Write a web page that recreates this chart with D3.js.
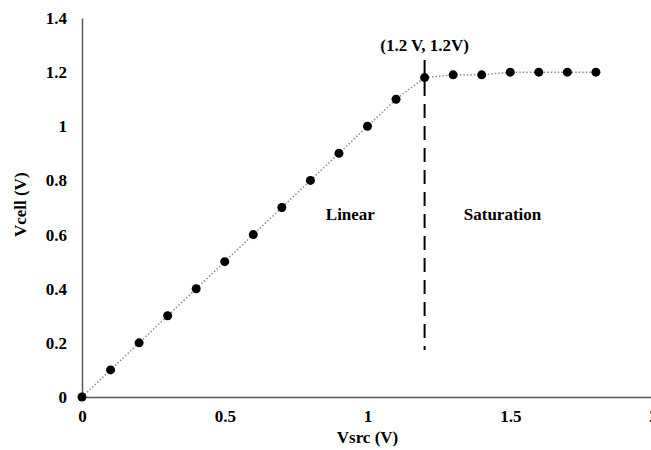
<!DOCTYPE html>
<html>
<head>
<meta charset="utf-8">
<script src="https://cdn.jsdelivr.net/npm/d3@7"></script>
<style>
    body { margin: 0; background: #fff; }
    svg text { font-family: "Liberation Serif", "Times New Roman", serif; font-weight: bold; fill: #000; }
</style>
</head>
<body>
<div id="chart"></div>
<script>
// Vcell vs Vsrc
const vsrc = [0, 0.1, 0.2, 0.3, 0.4, 0.5, 0.6, 0.7, 0.8, 0.9, 1.0, 1.1, 1.2, 1.3, 1.4, 1.5, 1.6, 1.7, 1.8];
const vcell = [0, 0.1, 0.2, 0.3, 0.4, 0.5, 0.6, 0.7, 0.8, 0.9, 1.0, 1.1, 1.18, 1.19, 1.19, 1.2, 1.2, 1.2, 1.2];
const xTicks = [0, 0.5, 1, 1.5, 2];
const yTicks = [0, 0.2, 0.4, 0.6, 0.8, 1, 1.2, 1.4];
const divider = { x: 1.2, y0: 0.174, y1: 1.245 };
const notes = [
    { x: 1.2, y: 1.278, text: '(1.2 V, 1.2V)' },
    { x: 0.94, y: 0.655, text: 'Linear' },
    { x: 1.473, y: 0.655, text: 'Saturation' }
];

const width = 651, height = 450;
const margin = { top: 18, right: -2, bottom: 53, left: 82 };
const fontSize = '17px';

const svg = d3.select('#chart').append('svg')
    .attr('width', width)
    .attr('height', height);

const x = d3.scaleLinear().domain([0, 2]).range([margin.left, width - margin.right]);
const y = d3.scaleLinear().domain([0, 1.4]).range([height - margin.bottom, margin.top]);

// axes
const xAxis = svg.append('g')
    .attr('transform', `translate(0,${y(0)})`)
    .call(d3.axisBottom(x).tickValues(xTicks).tickSize(0).tickPadding(13).tickFormat(d3.format('')));
xAxis.select('.domain').attr('stroke', '#595959').attr('stroke-width', 1.5);
xAxis.selectAll('text').style('font-size', fontSize);

const yAxis = svg.append('g')
    .attr('transform', `translate(${x(0)},0)`)
    .call(d3.axisLeft(y).tickValues(yTicks).tickSize(0).tickPadding(15).tickFormat(d3.format('')));
yAxis.select('.domain').attr('stroke', '#595959').attr('stroke-width', 1.5);
yAxis.selectAll('text').style('font-size', fontSize);

svg.append('text')
    .attr('x', x(1))
    .attr('y', 443)
    .attr('text-anchor', 'middle')
    .style('font-size', fontSize)
    .text('Vsrc (V)');

svg.append('text')
    .attr('transform', `translate(26,${y(0.71)}) rotate(-90)`)
    .attr('text-anchor', 'middle')
    .style('font-size', fontSize)
    .text('Vcell (V)');

// divider between regions
svg.append('line')
    .attr('x1', x(divider.x)).attr('x2', x(divider.x))
    .attr('y1', y(divider.y1)).attr('y2', y(divider.y0))
    .attr('stroke', '#000')
    .attr('stroke-width', 2)
    .attr('stroke-dasharray', '14,8');

// series
const pts = vsrc.map((v, i) => [v, vcell[i]]);
svg.append('path')
    .datum(pts)
    .attr('fill', 'none')
    .attr('stroke', '#8c8c8c')
    .attr('stroke-width', 1.5)
    .attr('stroke-dasharray', '1.5,2')
    .attr('d', d3.line().x(d => x(d[0])).y(d => y(d[1])));

svg.selectAll('.pt')
    .data(pts)
    .join('circle')
    .attr('class', 'pt')
    .attr('cx', d => x(d[0]))
    .attr('cy', d => y(d[1]))
    .attr('r', 4.5)
    .attr('fill', '#000');

notes.forEach(n => {
    svg.append('text')
        .attr('x', x(n.x))
        .attr('y', y(n.y))
        .attr('text-anchor', 'middle')
        .style('font-size', fontSize)
        .text(n.text);
});
</script>
</body>
</html>
